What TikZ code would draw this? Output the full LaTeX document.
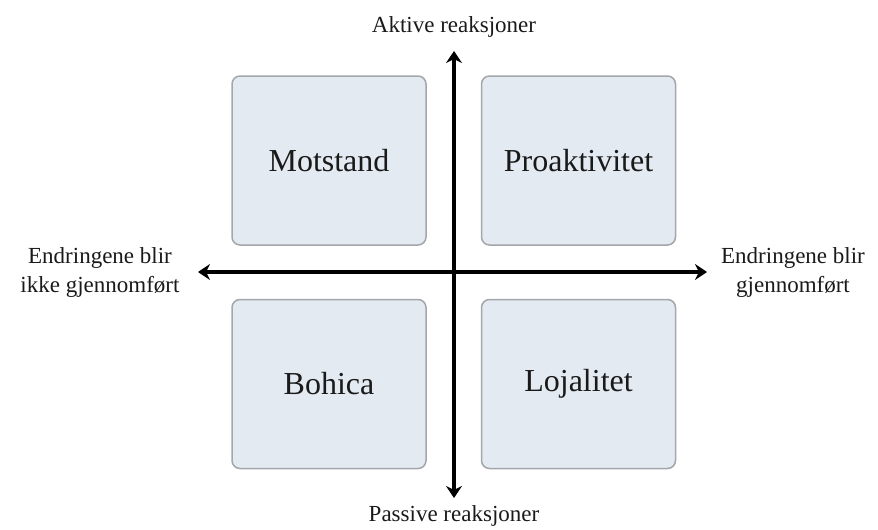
\documentclass[tikz,border=0pt]{standalone}
\usepackage{fontspec}
\setmainfont{Liberation Serif}
\usetikzlibrary{arrows.meta, positioning}
\definecolor{QDfill}{HTML}{E3EAF1}
\definecolor{QDline}{HTML}{A3A6AA}
\definecolor{QDink}{HTML}{1A1A1A}
\tikzset{
  qdbox/.style={
    rectangle, rounded corners=8pt, draw=QDline, line width=1.5pt,
    fill=QDfill, text=QDink, align=center, minimum width=194pt,
    minimum height=169pt, font=\fontsize{32}{38}\selectfont},
  qdaxis/.style={{Stealth[length=12pt,width=16pt,inset=4pt]}-{Stealth[length=12pt,width=16pt,inset=4pt]},
    line width=3.5pt, draw=black},
  qdlbl/.style={font=\fontsize{23}{29}\selectfont, text=QDink, align=center, inner sep=0pt},
}
\begin{document}
\begin{tikzpicture}[x=1pt, y=-1pt]
  \useasboundingbox (0,0) rectangle (878,530);
  \node[qdbox] (mot) at (329,160.5){Motstand};
  \node[qdbox] (pro) at (578.5,160.5){Proaktivitet};
  \node[qdbox] (boh) at (329,384){Bohica};
  \node[qdbox] (loj) at (578.5,384){Lojalitet};
  \coordinate (top) at (454,51);
  \coordinate (bot) at (454,498);
  \coordinate (lft) at (198,272);
  \coordinate (rgt) at (707,272);
  \draw[qdaxis](bot)--(top);\draw[qdaxis](lft)--(rgt);
  \node[qdlbl] (akt) at (454,27){Aktive reaksjoner};
  \node[qdlbl] (pas) at (454,516){Passive reaksjoner};
  \node[qdlbl] (ikke) at (100,272){Endringene blir\\ikke gjennomført};
  \node[qdlbl] (gjen) at (793,272){Endringene blir\\gjennomført};
\end{tikzpicture}
\end{document}
